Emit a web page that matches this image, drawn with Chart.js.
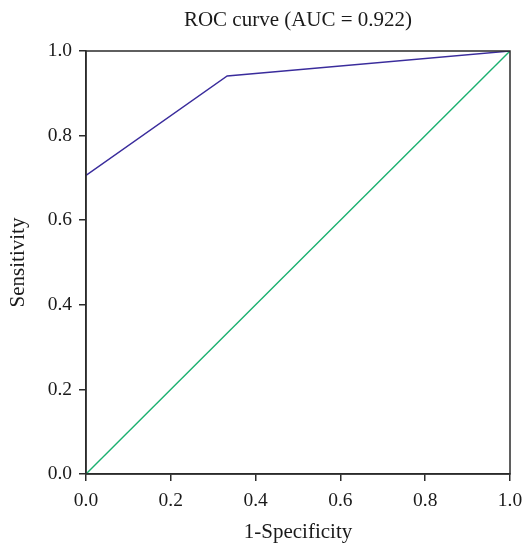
<!DOCTYPE html>
<html><head><meta charset="utf-8">
<script src="https://cdn.jsdelivr.net/npm/chart.js@4/dist/chart.umd.min.js"></script>
<style>html,body{margin:0;padding:0;background:#fff}#wrap{width:524px;height:545px}</style>
</head><body><div id="wrap"><canvas id="c" width="524" height="545"></canvas></div>
<script>
const rocFpr = [0, 0.333, 1];
const rocTpr = [0.706, 0.941, 1];
const refFpr = [0, 1];
const refTpr = [0, 1];
const tickValues = [0, 0.2, 0.4, 0.6, 0.8, 1.0];
const titleText = 'ROC curve (AUC = 0.922)';
const xTitle = '1-Specificity';
const yTitle = 'Sensitivity';

const FONT = "'Liberation Serif', 'Times New Roman', serif";
const frame = {
  id: 'frame',
  afterDatasetsDraw(chart) {
    const a = chart.chartArea, ctx = chart.ctx;
    ctx.save();
    ctx.strokeStyle = '#2b2b2b';
    ctx.lineWidth = 1.5;
    ctx.strokeRect(a.left, a.top, a.right - a.left, a.bottom - a.top);
    ctx.restore();
  }
};
new Chart(document.getElementById('c'), {
  type: 'scatter',
  data: {
    datasets: [
      { data: rocFpr.map((x, i) => ({x, y: rocTpr[i]})), showLine: true, borderColor: '#3a2c9c', borderWidth: 1.4, pointRadius: 0, tension: 0 },
      { data: refFpr.map((x, i) => ({x, y: refTpr[i]})), showLine: true, borderColor: '#1bb070', borderWidth: 1.4, pointRadius: 0, tension: 0 }
    ]
  },
  options: {
    responsive: false, animation: false,
    layout: { padding: { left: 0, right: 14, top: 0, bottom: 0 } },
    plugins: {
      legend: { display: false }, tooltip: { enabled: false },
      title: { display: true, fullSize: false, text: titleText, color: '#1a1a1a', font: { family: FONT, size: 21, weight: 'normal' }, padding: { top: 8, bottom: 17.8 } }
    },
    scales: {
      x: {
        type: 'linear', min: 0, max: 1,
        afterBuildTicks: s => { s.ticks = tickValues.map(v => ({value: v})); },
        afterFit: s => { s.height = 71; s.paddingLeft = 0; s.paddingRight = 0; },
        grid: { drawOnChartArea: false, drawTicks: true, tickLength: 7, color: '#2b2b2b', lineWidth: 1.5 },
        border: { display: true, color: '#2b2b2b', width: 1.5 },
        ticks: { color: '#1a1a1a', padding: 8, font: { family: FONT, size: 19.5 }, callback: v => Number(v).toFixed(1), maxRotation: 0 },
        title: { display: true, text: xTitle, color: '#1a1a1a', font: { family: FONT, size: 21 }, padding: { top: 0, bottom: 0 } }
      },
      y: {
        type: 'linear', min: 0, max: 1,
        afterBuildTicks: s => { s.ticks = tickValues.map(v => ({value: v})); },
        afterFit: s => { s.width = 86; s.paddingTop = 0; s.paddingBottom = 0; },
        grid: { drawOnChartArea: false, drawTicks: true, tickLength: 7, color: '#2b2b2b', lineWidth: 1.5 },
        border: { display: true, color: '#2b2b2b', width: 1.5 },
        ticks: { color: '#1a1a1a', padding: 7, font: { family: FONT, size: 19.5 }, callback: v => Number(v).toFixed(1) },
        title: { display: true, text: yTitle, color: '#1a1a1a', font: { family: FONT, size: 21 }, padding: { top: 6, bottom: 0 } }
      }
    }
  },
  plugins: [frame]
});
</script></body></html>
